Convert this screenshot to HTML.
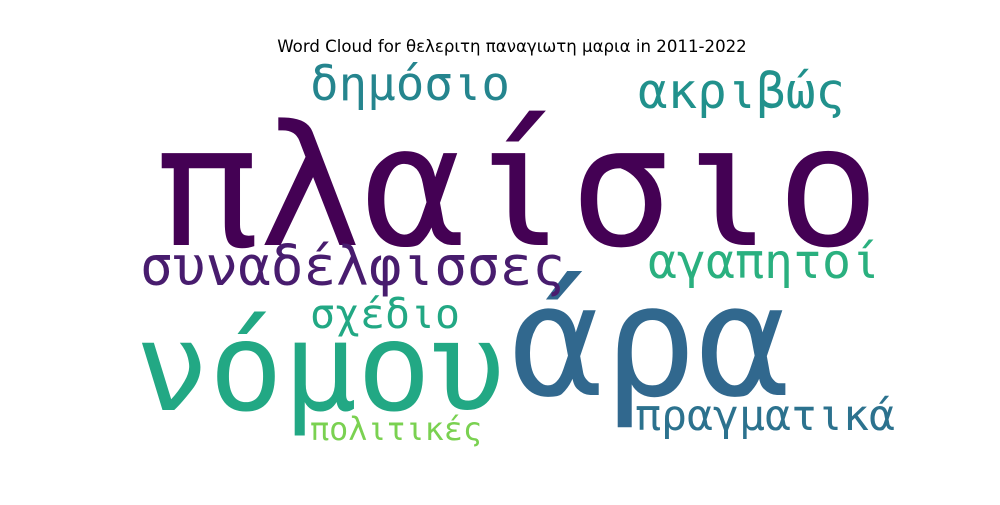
<!DOCTYPE html>
<html><head><meta charset="utf-8">
<style>
html,body{margin:0;padding:0;background:#fff;}
svg text.w{font-family:"DejaVu Sans Mono","Liberation Mono",monospace;}
</style></head>
<body>
<svg width="1000" height="500" viewBox="0 0 1000 500" xmlns="http://www.w3.org/2000/svg">
<rect width="1000" height="500" fill="#fff"/>
<text x="512" y="52" text-anchor="middle" font-family="DejaVu Sans, Liberation Sans, sans-serif" font-size="16.6" fill="#000">Word Cloud for θελεριτη παναγιωτη μαρια in 2011-2022</text>
<g id="words"></g>
</svg>
<script>
const words = ["πλαίσιο","νόμου","άρα","συναδέλφισσες","δημόσιο","ακριβώς","αγαπητοί","σχέδιο","πραγματικά","πολιτικές"];
const sizes = [168,123,155,54,47,49,48,41,43,32];
const colors = ["#440154","#22a884","#31688e","#481c6e","#25858e","#21918c","#2ab07f","#22a884","#2c728e","#7ad151"];
const xs = [155,135,510,140,310,638,648,310,635,310];
const ys = [245,410,395,285,100,108,278,328,430,440];
const ws = [725,370,280,425,200,207,232,150,260,172];
const g = document.getElementById('words');
const NS = "http://www.w3.org/2000/svg";
words.forEach((w,i)=>{
  const t = document.createElementNS(NS,'text');
  
  
  t.setAttribute('class','w');
  t.setAttribute('x',xs[i]);
  t.setAttribute('y',ys[i]);
  t.setAttribute('font-size',sizes[i]);
  t.setAttribute('fill',colors[i]);
  t.setAttribute('textLength',ws[i]);
  t.setAttribute('lengthAdjust','spacingAndGlyphs');
  t.textContent = w;
  g.appendChild(t);
});
</script>
</body></html>
